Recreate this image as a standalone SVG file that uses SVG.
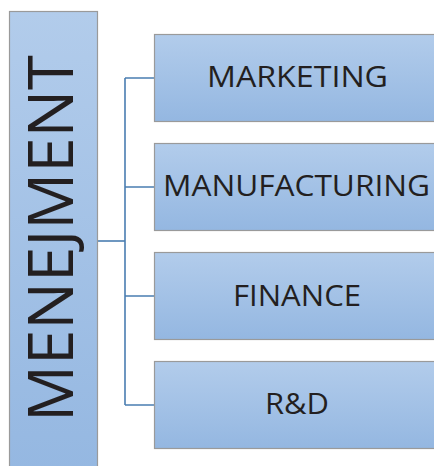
<svg xmlns="http://www.w3.org/2000/svg" width="434" height="466" viewBox="0 0 434 466">
<defs>
<linearGradient id="g" x1="0" y1="0" x2="0" y2="1">
<stop offset="0" stop-color="#b2cceb"/>
<stop offset="1" stop-color="#94b7e1"/>
</linearGradient>
<style>
.box{fill:url(#g);stroke:#9a9a9a;stroke-width:1.2}
.lbl{font-family:"Open Sans","Noto Sans",sans-serif;fill:#231f20;text-anchor:middle}
.c{fill:none;stroke:#4a7db1;stroke-width:1.6}
</style>
</defs>
<rect width="434" height="466" fill="#ffffff"/>
<g id="connectors">
<path class="c" d="M125 78 V405 M125 78 H154 M125 187 H154 M125 296 H154 M125 405 H154"/>
<path class="c" d="M98 241 H125" stroke-width="2.6"/>
</g>
<g id="menejment">
<rect class="box" x="9.5" y="11.5" width="88" height="470"/>
<text class="lbl" font-size="62" transform="translate(73 238.5) rotate(-90)" x="0" y="0" textLength="367" lengthAdjust="spacingAndGlyphs">MENEJMENT</text>
</g>
<g id="marketing">
<rect class="box" x="154.5" y="34.5" width="290" height="87"/>
<text class="lbl" font-size="30" x="297.5" y="87" textLength="181" lengthAdjust="spacingAndGlyphs">MARKETING</text>
</g>
<g id="manufacturing">
<rect class="box" x="154.5" y="143.5" width="290" height="87"/>
<text class="lbl" font-size="30" x="296.5" y="196" textLength="267" lengthAdjust="spacingAndGlyphs">MANUFACTURING</text>
</g>
<g id="finance">
<rect class="box" x="154.5" y="252.5" width="290" height="87"/>
<text class="lbl" font-size="30" x="297" y="305.5" textLength="128" lengthAdjust="spacingAndGlyphs">FINANCE</text>
</g>
<g id="rd">
<rect class="box" x="154.5" y="361.5" width="290" height="87"/>
<text class="lbl" font-size="30" x="297" y="414" textLength="64" lengthAdjust="spacingAndGlyphs">R&amp;D</text>
</g>
</svg>
